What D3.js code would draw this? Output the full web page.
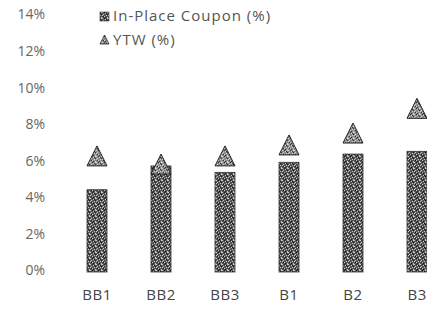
<!DOCTYPE html>
<html>
<head>
<meta charset="utf-8">
<script src="https://cdn.jsdelivr.net/npm/d3@7"></script>
<style>
  html, body { margin: 0; padding: 0; background: #fff; }
  svg { display: block; }
  text { font-family: "Open Sans", "Noto Sans", sans-serif; }
</style>
</head>
<body>
<svg id="chart" width="427" height="320"></svg>
<script>
// Rating buckets along the x axis
const categories = ["BB1", "BB2", "BB3", "B1", "B2", "B3"];
// In-place coupon (%) per bucket (bars)
const couponValues = [4.5, 5.8, 5.45, 6.0, 6.45, 6.6];
// Yield to worst (%) per bucket (triangle markers)
const ytwValues = [6.35, 5.9, 6.35, 6.95, 7.6, 8.95];
// Y axis ticks
const yTicks = [0, 2, 4, 6, 8, 10, 12, 14];
const seriesNames = ["In-Place Coupon (%)", "YTW (%)"];

const svg = d3.select("#chart");

const x = d3.scaleBand().domain(categories).range([65, 449]).paddingInner(0).paddingOuter(0);
const y = d3.scaleLinear().domain([0, 14]).range([272, 16]);
const barW = 20;

// Dithered grey textures for bars and markers
const defs = svg.append("defs");
function dither(id, bg, speck, dark) {
  const p = defs.append("pattern").attr("id", id).attr("patternUnits", "userSpaceOnUse")
    .attr("width", 6).attr("height", 6);
  p.append("rect").attr("width", 6).attr("height", 6).attr("fill", bg);
  const lights = [[0,0],[3,1],[1,2],[4,3],[2,4],[5,5],[5,0],[0,3]];
  lights.forEach(([a, b]) => p.append("rect").attr("x", a).attr("y", b).attr("width", 1).attr("height", 1).attr("fill", speck));
  const darks = [[2,0],[5,2],[1,4],[3,5],[4,1]];
  darks.forEach(([a, b]) => p.append("rect").attr("x", a).attr("y", b).attr("width", 1).attr("height", 1).attr("fill", dark));
}
dither("barTex", "#555", "#c4c4c4", "#1c1c1c");
dither("triTex", "#8a8a8a", "#d0d0d0", "#333");

// Y axis labels
const yAxis = d3.axisLeft(y).tickValues(yTicks).tickFormat(d => d + "%").tickSize(0).tickPadding(0);
const gy = svg.append("g").attr("transform", "translate(45,-2)").call(yAxis);
gy.select(".domain").remove();
gy.selectAll("text").attr("font-size", 14).attr("fill", "#666")
  .attr("font-family", "'Open Sans', sans-serif").attr("dy", "0.35em");

// X axis labels
const xAxis = d3.axisBottom(x).tickSize(0).tickPadding(0);
const gx = svg.append("g").attr("transform", "translate(0,289)").call(xAxis);
gx.select(".domain").remove();
gx.selectAll("text").attr("font-size", 15).attr("fill", "#444")
  .attr("letter-spacing", "0.6px")
  .attr("font-family", "'Open Sans', sans-serif").attr("dy", "0.71em");
// keep the last label inside the frame
gx.selectAll(".tick:last-of-type text").attr("text-anchor", "end").attr("x", 427 - x("B3") - x.bandwidth() / 2);

// Bars
svg.append("g").selectAll("rect").data(categories).join("rect")
  .attr("x", (d) => x(d) + x.bandwidth() / 2 - barW / 2)
  .attr("y", (d, i) => y(couponValues[i]))
  .attr("width", barW)
  .attr("height", (d, i) => y(0) - y(couponValues[i]))
  .attr("fill", "url(#barTex)")
  .attr("stroke", "#333").attr("stroke-width", 0.8);

// Triangle markers
function tri(cx, cy, w, h) {
  return `M${cx},${cy - h / 2}L${cx + w / 2},${cy + h / 2}L${cx - w / 2},${cy + h / 2}Z`;
}
svg.append("g").selectAll("path").data(categories).join("path")
  .attr("d", (d, i) => tri(x(d) + x.bandwidth() / 2, y(ytwValues[i]), 20, 20))
  .attr("fill", "url(#triTex)")
  .attr("stroke", "#222").attr("stroke-width", 1);

// Legend
const lg = svg.append("g");
lg.append("rect").attr("x", 100).attr("y", 12).attr("width", 9).attr("height", 9)
  .attr("fill", "url(#barTex)").attr("stroke", "#333").attr("stroke-width", 0.6);
lg.append("path").attr("d", tri(104.5, 39.5, 9, 9))
  .attr("fill", "url(#triTex)").attr("stroke", "#222").attr("stroke-width", 0.8);
lg.selectAll("text").data(seriesNames).join("text")
  .attr("x", 113).attr("y", (d, i) => 16 + i * 24).attr("dy", "0.35em")
  .attr("font-size", 15).attr("letter-spacing", "1px")
  .attr("fill", "#555").text(d => d);
</script>
</body>
</html>
